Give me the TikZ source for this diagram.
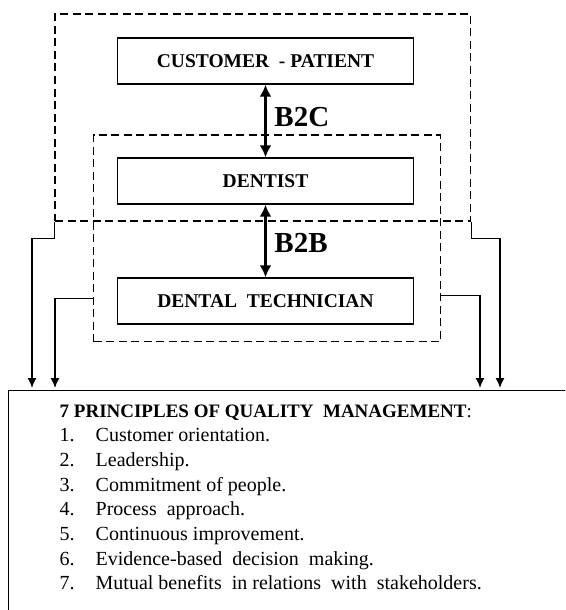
\documentclass[tikz,border=0pt]{standalone}
\usepackage{fontspec}
\setmainfont{Liberation Serif}
\usetikzlibrary{arrows.meta}

\begin{document}
\begin{tikzpicture}[x=1pt,y=-1pt,line width=1.4pt,node distance=120pt,>={Latex[length=10pt,width=9pt]}]
        \tikzstyle{party}=[draw,rectangle,minimum width=296pt,minimum height=46pt,inner sep=0pt,font=\fontsize{19.5}{22}\selectfont\bfseries]
        \tikzstyle{group}=[draw,rectangle,dash pattern=on 8pt off 4.5pt,inner sep=0pt]
        \tikzstyle{link}=[->,shorten >=2pt]
        \tikzstyle{relation}=[<->,line width=3.2pt,>={Latex[length=12pt,width=12pt]},auto,font=\fontsize{29}{32}\selectfont\bfseries]
        \path[use as bounding box,clip] (0,0) rectangle (565,610);
        % the three parties
        \node[party] (cp) at (265.5,61) {CUSTOMER~~- PATIENT};
        \node[party] (dentist) [below of=cp] {DENTIST};
        \node[party] (tech) [below of=dentist] {DENTAL~~TECHNICIAN};
        % B2C and B2B groups
        \node[group,minimum width=415.5pt,minimum height=207pt] (b2c) at (262.75,117.5) {};
        \node[group,minimum width=347pt,minimum height=206.7pt] (b2b) at (267.2,238.35) {};
        % quality management box
        \node[draw,rectangle,anchor=north west,minimum width=600pt,minimum height=260pt] (qm) at (8,390) {};
        \node[anchor=base west,inner sep=0pt,font=\fontsize{20}{24.7}\selectfont] (principles) at (59,417) {%
            \begin{tabular}[t]{@{}p{36pt}@{}l@{}}
            \multicolumn{2}{@{}l@{}}{\fontsize{19}{24.7}\selectfont\textbf{7 PRINCIPLES OF QUALITY\ \ MANAGEMENT}:}\\
            1. & Customer orientation.\\
            2. & Leadership.\\
            3. & Commitment of people.\\
            4. & Process\ \ approach.\\
            5. & Continuous improvement.\\
            6. & Evidence-based\ \ decision\ \ making.\\
            7. & Mutual benefits\ \ in relations\ \ with\ \ stakeholders.
            \end{tabular}};
    \path
        (cp) edge[relation] node[xshift=4pt,yshift=4pt] {B2C} (dentist)
        (dentist) edge[relation] node[xshift=4pt,yshift=-2pt] {B2B} (tech);
    \draw[link] (b2c.south west) -- ++(0,17) -| ([xshift=24pt]qm.north west);
    \draw[link] ([yshift=-60pt]b2b.west) -| ([xshift=47pt]qm.north west);
    \draw[link] ([yshift=-57pt]b2b.east) -| ([xshift=472pt]qm.north west);
    \draw[link] (b2c.south east) -- ++(0,17) -| ([xshift=492pt]qm.north west);
    \end{tikzpicture}
\end{document}
